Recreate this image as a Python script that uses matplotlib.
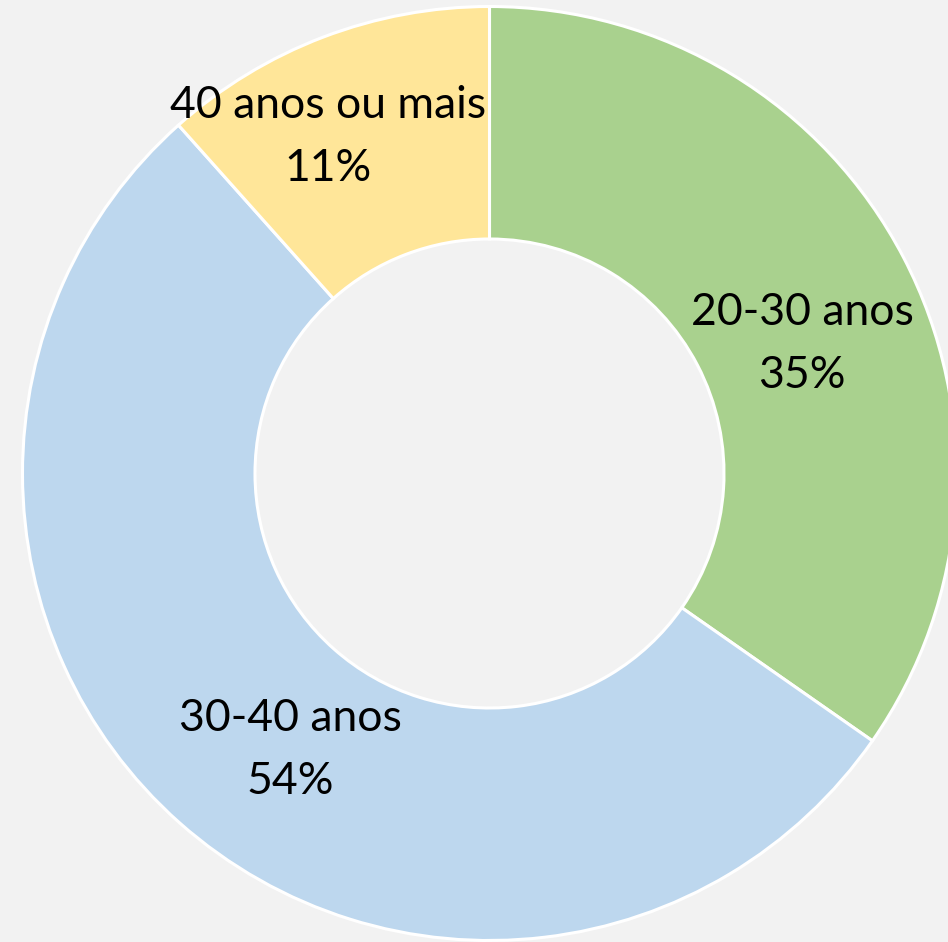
import matplotlib
matplotlib.use('Agg')
import matplotlib.pyplot as plt

labels = ['20-30 anos', '30-40 anos', '40 anos ou mais']
values = [34.7, 53.7, 11.6]          # slice sizes
pct_text = ['35%', '54%', '11%']     # percentages as printed on the chart
colors = ['#a9d18e', '#bdd7ee', '#ffe699']
# label centres in pixel coords (x, y from top)
label_pos = [(802, 344), (290, 750), (328, 137)]

W, H = 948, 942
fig = plt.figure(figsize=(W / 100, H / 100), dpi=100, facecolor='#f2f2f2')

# centre ~ (489.5, 473.5) px, outer radius ~467 px, inner ~234.5 px
cx, cy, r = 489.5, 473.5, 467
ax = fig.add_axes([(cx - r) / W, (H - cy - r) / H, 2 * r / W, 2 * r / H])
ax.set_facecolor('#f2f2f2')

ax.pie(values, colors=colors, startangle=90, counterclock=False, radius=1,
       wedgeprops=dict(width=1 - 234.5 / 467, edgecolor='white', linewidth=2.2))
ax.set_xlim(-1, 1)
ax.set_ylim(-1, 1)
ax.set_aspect('equal')
ax.axis('off')

for lab, pct, (px, py) in zip(labels, pct_text, label_pos):
    fig.text(px / W, 1 - py / H, lab + '\n' + pct, ha='center', va='center',
             fontsize=32, family='Lato', color='black', linespacing=1.65)

fig.savefig('out.png', dpi=100, facecolor=fig.get_facecolor())
